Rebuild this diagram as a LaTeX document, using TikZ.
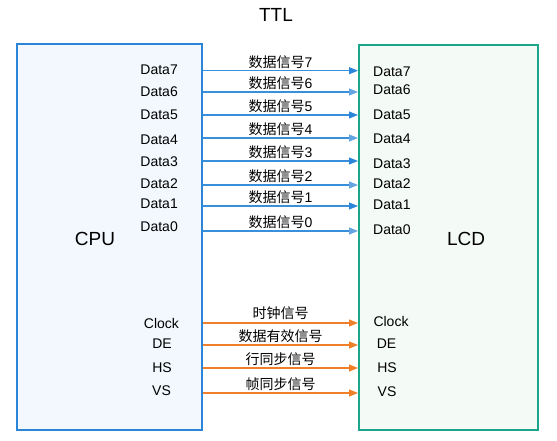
\documentclass[tikz,border=0pt]{standalone}
\usepackage{fontspec}
\setmainfont{Liberation Sans}
\newfontfamily\cjk{Noto Sans CJK SC}
\usetikzlibrary{arrows.meta}
\definecolor{cpuBorder}{RGB}{43,134,217}
\definecolor{cpuFill}{RGB}{242,248,253}
\definecolor{lcdBorder}{RGB}{27,166,140}
\definecolor{lcdFill}{RGB}{244,250,246}
\definecolor{sigBlue}{RGB}{58,143,218}
\definecolor{tipDark}{RGB}{43,134,217}
\definecolor{tipLight}{RGB}{100,165,225}
\definecolor{sigOrange}{RGB}{240,127,42}
\tikzset{
  boxcpu/.style={draw=cpuBorder, fill=cpuFill, line width=2pt, inner sep=0pt},
  boxlcd/.style={draw=lcdBorder, fill=lcdFill, line width=2pt, inner sep=0pt},
  big/.style={font=\fontsize{19}{22}\selectfont, inner sep=0pt},
  port/.style={font=\fontsize{14}{16}\selectfont, inner sep=0pt},
  siglabel/.style={font=\fontsize{14}{16}\selectfont, inner sep=0pt, midway, yshift=9pt},
  bluesig/.style={draw=sigBlue, line width=1.1pt, -{Triangle[length=9pt,width=7pt,color=tipDark]}},
  bluesigl/.style={draw=sigBlue, line width=1.1pt, -{Triangle[length=9pt,width=7pt,color=tipLight]}},
  orangesig/.style={draw=sigOrange, line width=1.1pt, -{Triangle[length=9pt,width=7pt]}},
}
\begin{document}
\begin{tikzpicture}[x=1pt,y=-1pt]
\useasboundingbox (0,0) rectangle (557,441);
\node[boxcpu, minimum width=185pt, minimum height=386pt] (cpu) at (109.5,237) {};
\node[boxlcd, minimum width=179pt, minimum height=385pt] (lcd) at (448.5,237.5) {};
\node[big] (ttl) at (276,15) {TTL};
\node[big] (cputxt) at (95,239) {CPU};
\node[big] (lcdtxt) at (466,239) {LCD};
% CPU ports
\foreach \n/\y in {7/70,6/92,5/115,4/140,3/162,2/184,1/204,0/227}
  \node[port, anchor=east] (cd\n) at (178,\y) {Data\n};
\node[port] (cclk) at (161.5,323) {Clock};
\node[port] (cde) at (162,344) {DE};
\node[port] (chs) at (162,368) {HS};
\node[port] (cvs) at (161.5,391) {VS};
% LCD ports
\foreach \n/\y in {7/72,6/90,5/115,4/139,3/164,2/184,1/205,0/230}
  \node[port, anchor=west] (ld\n) at (373,\y) {Data\n};
\node[port] (lclk) at (391,321) {Clock};
\node[port] (lde) at (386.5,344) {DE};
\node[port] (lhs) at (387,368) {HS};
\node[port] (lvs) at (387,392) {VS};
% data signals
\foreach \n/\y/\st in {7/70.7/bluesig,6/92/bluesigl,5/115/bluesig,4/138/bluesigl,3/161/bluesig,2/185/bluesigl,1/206/bluesig,0/231/bluesigl}
  \draw[\st] (cpu.east |- 0,\y) -- (lcd.west |- 0,\y) node[siglabel] {{\cjk 数据信号}\n};
% control signals
\draw[orangesig] (cpu.east |- 0,323) -- (lcd.west |- 0,323) node[siglabel, yshift=1pt] {\cjk 时钟信号};
\draw[orangesig] (cpu.east |- 0,345) -- (lcd.west |- 0,345) node[siglabel] {\cjk 数据有效信号};
\draw[orangesig] (cpu.east |- 0,368) -- (lcd.west |- 0,368) node[siglabel] {\cjk 行同步信号};
\draw[orangesig] (cpu.east |- 0,393) -- (lcd.west |- 0,393) node[siglabel] {\cjk 帧同步信号};
\end{tikzpicture}
\end{document}
